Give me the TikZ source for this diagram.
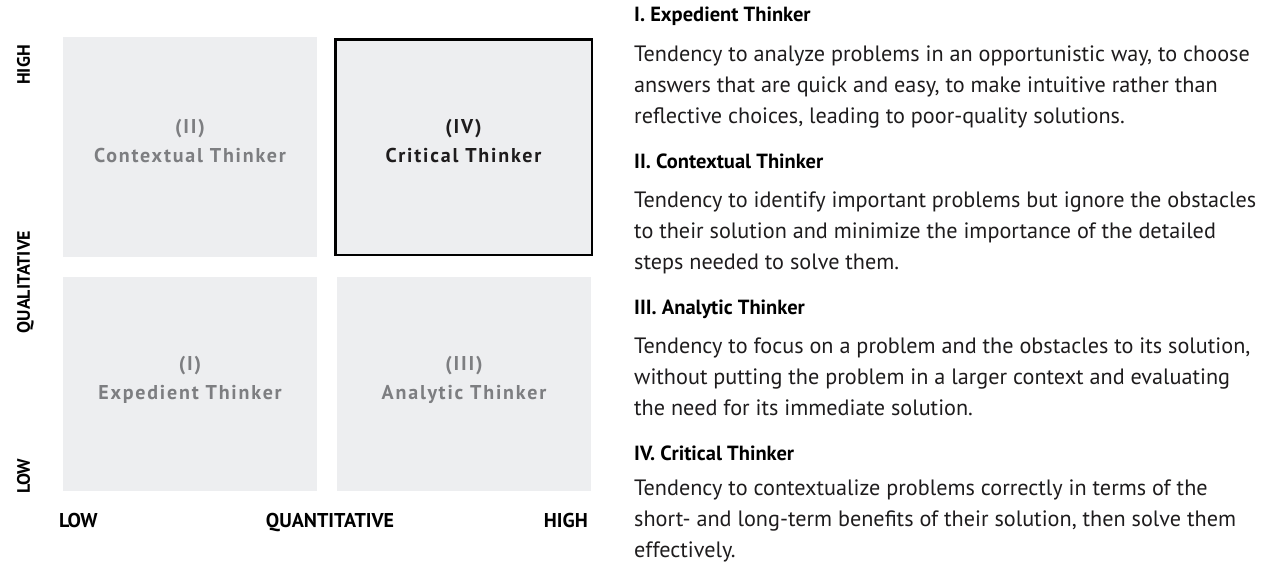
\documentclass[tikz,border=0pt]{standalone}
\usepackage{fontspec}
\setmainfont{PT Sans}
\usetikzlibrary{positioning}
\definecolor{boxgray}{HTML}{EDEEF0}
\definecolor{labelgray}{HTML}{7D7E81}
\definecolor{inkblack}{HTML}{1E1C1D}
\tikzset{
  quadrant/.style={fill=boxgray, inner sep=0pt, minimum width=254pt, align=center, text depth=12pt,
    text=labelgray, font=\bfseries\fontsize{20}{29}\selectfont\addfontfeature{LetterSpace=9}},
  axisvert/.style={rotate=90, anchor=base, inner sep=0pt, text=black, font=\bfseries\fontsize{18}{18}\selectfont},
  axishor/.style={anchor=base, inner sep=0pt, text=black, font=\bfseries\fontsize{20}{20}\selectfont},
  typehead/.style={anchor=base west, inner sep=0pt, text=black, font=\bfseries\fontsize{20.5}{31}\selectfont},
  typebody/.style={anchor=base west, inner sep=0pt, align=left, text=inkblack, font=\fontsize{22.2}{31}\selectfont}
}
\begin{document}
\begin{tikzpicture}[x=1pt,y=-1pt]
	\useasboundingbox (0,0) rectangle (1270,563);
	%quadrants
	\node[quadrant, minimum height=220pt] (ctx) at (190,147) {(II)\\Contextual Thinker};
	\node[quadrant, minimum width=256.5pt, minimum height=215.5pt, draw=black, line width=2.5pt, text=inkblack] (crit) at (463.5,147) {(IV)\\Critical Thinker};
	\node[quadrant, minimum height=214pt] (exped) at (190,384) {(I)\\Expedient Thinker};
	\node[quadrant, minimum height=214pt] (analy) at (464,384) {(III)\\Analytic Thinker};
	%qualitative axis
	\node[axisvert] (qualhigh) at (30,65) {HIGH};
	\node[axisvert] (qual) at (30,282) {QUALITATIVE};
	\node[axisvert] (quallow) at (30,476) {LOW};
	%quantitative axis
	\node[axishor, anchor=base west] (quantlow) at (59,527) {LOW};
	\node[axishor] (quant) at (330,527) {QUANTITATIVE};
	\node[axishor, anchor=base east] (quanthigh) at (588,527) {HIGH};
	%descriptions (base = last line)
	\node[typehead] (hexped) at (634,21) {I. Expedient Thinker};
	\node[typebody] (bexped) at (634,123) {Tendency to analyze problems in an opportunistic way, to choose\\answers that are quick and easy, to make intuitive rather than\\reflective choices, leading to poor-quality solutions.};
	\node[typehead] (hctx) at (634,168) {II. Contextual Thinker};
	\node[typebody] (bctx) at (634,269) {Tendency to identify important problems but ignore the obstacles\\to their solution and minimize the importance of the detailed\\steps needed to solve them.};
	\node[typehead] (hanaly) at (634,314) {III. Analytic Thinker};
	\node[typebody] (banaly) at (634,415) {Tendency to focus on a problem and the obstacles to its solution,\\without putting the problem in a larger context and evaluating\\the need for its immediate solution.};
	\node[typehead] (hcrit) at (634,460) {IV. Critical Thinker};
	\node[typebody] (bcrit) at (634,557) {Tendency to contextualize problems correctly in terms of the\\short- and long-term benefits of their solution, then solve them\\effectively.};
\end{tikzpicture}
\end{document}
